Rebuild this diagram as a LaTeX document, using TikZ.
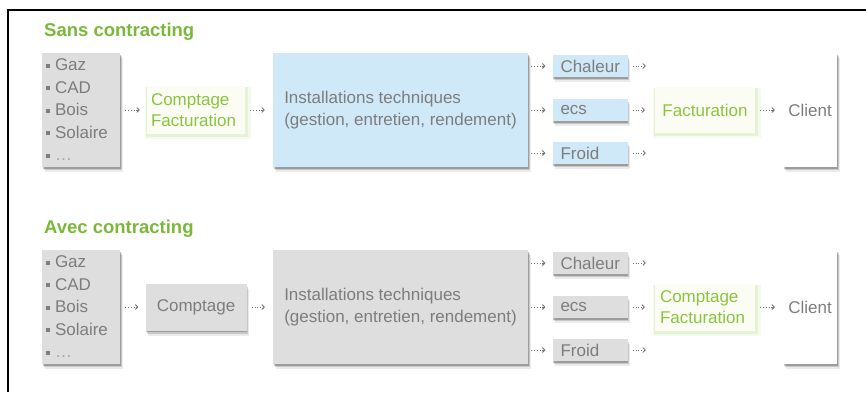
\documentclass[tikz,border=0pt]{standalone}
\usepackage{fontspec}
\setmainfont{Liberation Sans}
\usetikzlibrary{shadows,arrows.meta,calc}

\definecolor{txtgray}{RGB}{125,125,125}
\definecolor{dotgray}{RGB}{125,125,125}
\definecolor{ttlgreen}{RGB}{122,184,58}
\definecolor{boxgreen}{RGB}{138,196,62}
\definecolor{graybox}{RGB}{222,222,222}
\definecolor{bluebox}{RGB}{208,233,248}
\definecolor{arrowgray}{RGB}{115,115,115}
\definecolor{paleface}{RGB}{251,253,245}

\newcommand\srcitem[1]{\textcolor{dotgray}{\rule[0.2em]{4pt}{4pt}}\hspace{5pt}#1}

\tikzset{
  softshadow/.style={
    drop shadow={shadow xshift=0.5pt,shadow yshift=-1.5pt,opacity=.22,fill=black},
    drop shadow={shadow xshift=1.5pt,shadow yshift=-3pt,opacity=.15,fill=black},
    drop shadow={shadow xshift=2.5pt,shadow yshift=-5pt,opacity=.08,fill=black}},
  greenglow/.style={
    drop shadow={shadow xshift=1pt,shadow yshift=-2pt,shadow scale=1.04,opacity=.14,fill=boxgreen},
    drop shadow={shadow xshift=2pt,shadow yshift=-3pt,shadow scale=1.08,opacity=.09,fill=boxgreen}},
  body/.style={font=\fontsize{17}{21.5}\selectfont, text=txtgray, inner sep=0pt, align=left},
  graynode/.style={body, fill=graybox, softshadow},
  bluenode/.style={body, fill=bluebox, softshadow},
  greennode/.style={body, text=boxgreen, fill=paleface, greenglow},
  clientnode/.style={body, fill=white, softshadow, minimum width=54pt, minimum height=114pt},
  srcnode/.style={minimum height=114pt, text width=70pt, inner xsep=4pt,
    font=\fontsize{17}{22.5}\selectfont},
  instnode/.style={minimum width=255pt, minimum height=114pt},
  smallnode/.style={minimum width=75pt, minimum height=22pt, inner xsep=8pt, text width=59pt},
  title/.style={font=\fontsize{18.5}{22}\selectfont\bfseries, text=ttlgreen, inner sep=0pt, anchor=west},
  flow/.style={draw=arrowgray, line width=0.9pt, dash pattern=on 1.1pt off 1.7pt,
    -{To[length=3.2pt,width=5.5pt]}},
}

\begin{document}
\begin{tikzpicture}[x=1pt,y=1pt]
  \useasboundingbox (0,0) rectangle (866,-392);
  % frame
  \draw[line width=1.6pt] (8,-392) -- (8,-10) -- (866,-10);

  % ---------- without contracting ----------
  \node[title] (t1) at (44,-32) {Sans contracting};
  \node[graynode, srcnode] (s1) at (81,-110)
    {\srcitem{Gaz}\\\srcitem{CAD}\\\srcitem{Bois}\\\srcitem{Solaire}\\\srcitem{\textcolor{dotgray!70}{…}}};
  \node[greennode, minimum width=98pt, minimum height=48pt, text width=90pt, inner xsep=4pt] (c1) at (196,-110)
    {Comptage\\Facturation};
  \node[bluenode, instnode] (i1) at (400.5,-110)
    {Installations techniques\\(gestion, entretien, rendement)};
  \node[bluenode, smallnode] (ch1) at (590,-66) {Chaleur};
  \node[bluenode, smallnode] (e1) at (590,-110) {ecs};
  \node[bluenode, smallnode] (f1) at (590,-153) {Froid};
  \node[greennode, minimum width=100pt, minimum height=46pt] (fa1) at (705,-110) {Facturation};
  \node[clientnode] (cl1) at (810,-110) {Client};

  \coordinate (ch1end) at ($(ch1.east)+(18,0)$);
  \coordinate (f1end) at ($(f1.east)+(18,0)$);

  \draw[flow, shorten <=5pt, shorten >=7pt] (s1) -- (c1);
  \draw[flow, shorten <=5pt, shorten >=8pt] (c1) -- (i1);
  \draw[flow, shorten <=3pt, shorten >=7pt] (ch1.west -| i1.east) -- (ch1.west);
  \draw[flow, shorten <=3pt, shorten >=7pt] (i1) -- (e1);
  \draw[flow, shorten <=3pt, shorten >=7pt] (f1.west -| i1.east) -- (f1.west);
  \draw[flow, shorten <=5pt] (ch1.east) -- (ch1end);
  \draw[flow, shorten <=5pt, shorten >=10pt] (e1) -- (fa1);
  \draw[flow, shorten <=5pt] (f1.east) -- (f1end);
  \draw[flow, shorten <=5pt, shorten >=8pt] (fa1) -- (cl1);

  % ---------- with contracting ----------
  \node[title] (t2) at (44,-229) {Avec contracting};
  \node[graynode, srcnode] (s2) at (81,-307)
    {\srcitem{Gaz}\\\srcitem{CAD}\\\srcitem{Bois}\\\srcitem{Solaire}\\\srcitem{\textcolor{dotgray!70}{…}}};
  \node[graynode, minimum width=101pt, minimum height=47pt] (c2) at (196,-307) {Comptage};
  \node[graynode, instnode] (i2) at (400.5,-307)
    {Installations techniques\\(gestion, entretien, rendement)};
  \node[graynode, smallnode] (ch2) at (590,-263) {Chaleur};
  \node[graynode, smallnode] (e2) at (590,-307) {ecs};
  \node[graynode, smallnode] (f2) at (590,-350) {Froid};
  \node[greennode, minimum width=100pt, minimum height=47pt, text width=90pt, inner xsep=5pt] (fa2) at (705,-307)
    {Comptage\\Facturation};
  \node[clientnode] (cl2) at (810,-307) {Client};

  \coordinate (ch2end) at ($(ch2.east)+(18,0)$);
  \coordinate (f2end) at ($(f2.east)+(18,0)$);

  \draw[flow, shorten <=5pt, shorten >=7pt] (s2) -- (c2);
  \draw[flow, shorten <=5pt, shorten >=8pt] (c2) -- (i2);
  \draw[flow, shorten <=3pt, shorten >=7pt] (ch2.west -| i2.east) -- (ch2.west);
  \draw[flow, shorten <=3pt, shorten >=7pt] (i2) -- (e2);
  \draw[flow, shorten <=3pt, shorten >=7pt] (f2.west -| i2.east) -- (f2.west);
  \draw[flow, shorten <=5pt] (ch2.east) -- (ch2end);
  \draw[flow, shorten <=5pt, shorten >=10pt] (e2) -- (fa2);
  \draw[flow, shorten <=5pt] (f2.east) -- (f2end);
  \draw[flow, shorten <=5pt, shorten >=8pt] (fa2) -- (cl2);
\end{tikzpicture}
\end{document}
